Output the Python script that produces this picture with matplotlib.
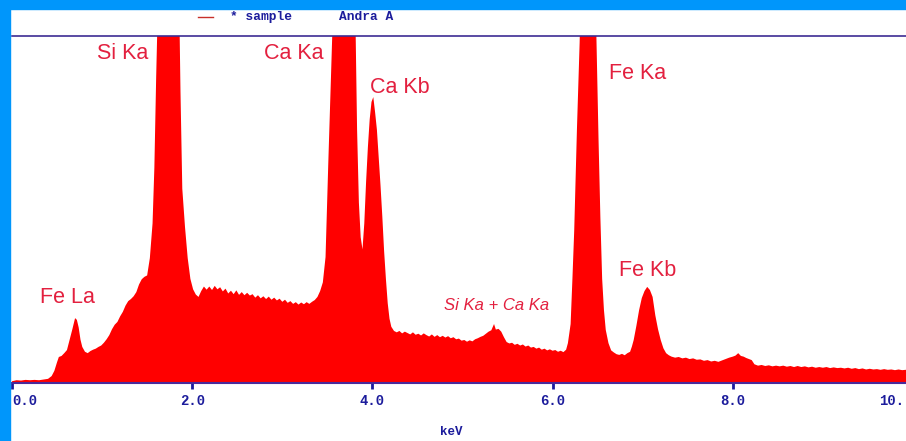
import matplotlib
matplotlib.use('Agg')
import matplotlib.pyplot as plt
from matplotlib.patches import Rectangle
from matplotlib.lines import Line2D

# EDS spectrum: (keV, counts in % of the visible full scale)
spectrum = [
    (0.00, 0.5), (0.05, 0.8), (0.10, 0.7), (0.15, 0.9), (0.20, 0.8), (0.25, 0.9), (0.30, 0.8),
    (0.35, 1.0), (0.40, 1.2), (0.44, 2.0), (0.47, 3.5), (0.50, 6.0), (0.52, 7.5), (0.55, 7.8),
    (0.58, 8.6), (0.61, 9.5), (0.64, 12.5), (0.67, 15.5), (0.70, 18.7), (0.72, 18.2), (0.74, 16.0),
    (0.76, 12.5), (0.78, 10.4), (0.81, 9.0), (0.84, 8.6), (0.87, 9.2), (0.90, 9.6), (0.93, 9.9),
    (0.96, 10.4), (0.99, 10.8), (1.02, 11.6), (1.05, 12.6), (1.08, 13.8), (1.11, 15.5), (1.14, 16.8),
    (1.17, 17.6), (1.20, 19.2), (1.23, 20.5), (1.26, 22.3), (1.29, 23.6), (1.32, 24.2), (1.35, 25.0),
    (1.38, 26.2), (1.41, 28.4), (1.44, 29.9), (1.47, 30.6), (1.50, 31.0), (1.53, 36.0), (1.56, 46.0),
    (1.58, 62.0), (1.60, 88.0), (1.62, 110), (1.66, 170), (1.70, 215), (1.74, 230), (1.78, 215),
    (1.82, 170), (1.85, 120), (1.87, 84), (1.89, 56), (1.92, 45), (1.95, 36), (1.98, 30),
    (2.01, 27.0), (2.04, 25.5), (2.07, 24.8), (2.10, 26.5), (2.13, 27.8), (2.16, 26.9), (2.19, 27.8),
    (2.22, 26.8), (2.25, 28.0), (2.28, 27.0), (2.31, 27.6), (2.34, 26.4), (2.37, 27.2), (2.40, 25.8),
    (2.43, 26.6), (2.46, 25.6), (2.49, 26.7), (2.52, 25.4), (2.55, 26.2), (2.58, 25.3), (2.61, 26.0),
    (2.64, 25.2), (2.67, 25.6), (2.70, 24.6), (2.73, 25.3), (2.76, 24.4), (2.79, 25.0), (2.82, 24.2),
    (2.85, 24.9), (2.88, 24.0), (2.91, 24.6), (2.94, 23.8), (2.97, 24.3), (3.00, 23.4), (3.03, 24.0),
    (3.06, 23.1), (3.09, 23.6), (3.12, 22.8), (3.15, 23.3), (3.18, 22.6), (3.21, 23.2), (3.24, 22.7),
    (3.27, 23.3), (3.30, 22.8), (3.33, 23.4), (3.36, 23.9), (3.39, 24.8), (3.42, 26.5), (3.45, 29.0),
    (3.48, 36.3), (3.51, 63.0), (3.54, 88), (3.56, 105), (3.60, 160), (3.64, 200), (3.69, 215),
    (3.74, 200), (3.78, 150), (3.81, 108), (3.83, 73), (3.85, 52), (3.87, 42), (3.89, 38.5),
    (3.91, 46), (3.93, 58), (3.95, 68), (3.97, 76), (3.99, 81), (4.01, 82.4), (4.03, 78),
    (4.05, 73), (4.07, 65), (4.09, 57), (4.11, 48), (4.13, 38), (4.15, 30), (4.17, 23),
    (4.19, 18.5), (4.21, 16.2), (4.24, 15.0), (4.27, 14.6), (4.30, 15.0), (4.33, 14.3), (4.36, 14.8),
    (4.39, 14.4), (4.42, 14.0), (4.45, 14.6), (4.48, 13.9), (4.51, 14.2), (4.54, 13.7), (4.57, 14.3),
    (4.60, 13.8), (4.63, 13.4), (4.66, 14.0), (4.69, 13.3), (4.72, 13.8), (4.75, 13.2), (4.78, 13.6),
    (4.81, 13.1), (4.84, 13.5), (4.87, 12.9), (4.90, 13.2), (4.93, 12.6), (4.96, 12.8), (4.99, 12.2),
    (5.02, 12.4), (5.05, 11.9), (5.08, 12.3), (5.11, 12.0), (5.14, 12.6), (5.17, 12.9), (5.20, 13.3),
    (5.23, 13.6), (5.26, 14.2), (5.29, 14.8), (5.32, 15.2), (5.35, 17.0), (5.37, 15.4), (5.40, 15.6),
    (5.43, 14.8), (5.46, 13.2), (5.49, 11.8), (5.52, 11.4), (5.55, 11.6), (5.58, 11.0), (5.61, 11.3),
    (5.64, 10.8), (5.67, 11.1), (5.70, 10.5), (5.73, 10.8), (5.76, 10.2), (5.79, 10.4), (5.82, 9.9),
    (5.85, 10.2), (5.88, 9.6), (5.91, 9.9), (5.94, 9.4), (5.97, 9.7), (6.00, 9.3), (6.03, 9.5),
    (6.06, 9.0), (6.09, 9.3), (6.12, 8.9), (6.15, 9.6), (6.17, 11.5), (6.20, 17), (6.22, 30),
    (6.24, 44), (6.27, 73), (6.30, 98), (6.32, 120), (6.36, 190), (6.40, 210), (6.44, 190),
    (6.47, 120), (6.49, 95), (6.51, 70), (6.53, 48), (6.55, 30), (6.57, 21), (6.59, 15.3),
    (6.62, 11.5), (6.65, 9.4), (6.68, 8.8), (6.71, 8.3), (6.74, 8.1), (6.77, 8.4), (6.80, 8.0),
    (6.83, 8.6), (6.86, 9.0), (6.88, 10.5), (6.90, 12.4), (6.93, 16.5), (6.96, 21.0), (6.99, 24.5),
    (7.02, 26.5), (7.05, 27.7), (7.08, 26.8), (7.11, 24.8), (7.14, 19.5), (7.17, 15.5), (7.20, 12.4),
    (7.23, 10.0), (7.26, 8.6), (7.29, 8.0), (7.32, 7.6), (7.36, 7.3), (7.40, 7.5), (7.44, 7.1),
    (7.48, 7.3), (7.52, 6.9), (7.56, 7.1), (7.60, 6.7), (7.64, 6.8), (7.68, 6.4), (7.72, 6.6),
    (7.76, 6.2), (7.80, 6.4), (7.84, 6.1), (7.88, 6.5), (7.92, 6.9), (7.96, 7.3), (8.00, 7.6),
    (8.03, 7.9), (8.06, 8.6), (8.09, 7.8), (8.12, 7.6), (8.15, 7.2), (8.18, 6.9), (8.21, 6.6),
    (8.24, 5.4), (8.28, 5.0), (8.32, 5.2), (8.36, 4.9), (8.40, 5.1), (8.44, 4.8), (8.48, 5.0),
    (8.52, 4.8), (8.56, 5.0), (8.60, 4.7), (8.64, 4.9), (8.68, 4.6), (8.72, 4.9), (8.76, 4.6),
    (8.80, 4.8), (8.84, 4.5), (8.88, 4.7), (8.92, 4.4), (8.96, 4.6), (9.00, 4.4), (9.04, 4.6),
    (9.08, 4.3), (9.12, 4.5), (9.16, 4.3), (9.20, 4.4), (9.24, 4.2), (9.28, 4.4), (9.32, 4.1),
    (9.36, 4.3), (9.40, 4.0), (9.44, 4.2), (9.48, 3.9), (9.52, 4.1), (9.56, 3.9), (9.60, 4.0),
    (9.64, 3.8), (9.68, 4.0), (9.72, 3.8), (9.76, 3.9), (9.80, 3.7), (9.84, 3.9), (9.88, 3.7),
    (9.92, 3.8), (9.96, 3.7), (10.00, 3.7),
]

# peak labels (keV, height)
peak_names = ['Si Ka', 'Ca Ka', 'Ca Kb', 'Fe Ka', 'Fe Kb', 'Fe La']
peak_x = [1.23, 3.13, 4.30, 6.94, 7.06, 0.61]
peak_y = [95.1, 95.1, 85.3, 89.3, 32.3, 24.5]
sum_name = 'Si Ka + Ca Ka'
sum_x, sum_y = 5.38, 22.2

tick_vals = [0, 2, 4, 6, 8]
tick_text = ['0.0', '2.0', '4.0', '6.0', '8.0']

W, H = 906, 441
navy = '#1c1c9c'
label_red = '#e3203f'
mono = 'Liberation Mono'

kev = [p[0] for p in spectrum]
counts = [p[1] for p in spectrum]

fig = plt.figure(figsize=(W / 100, H / 100), dpi=100)
fig.patch.set_facecolor('white')

# blue frame on the left and top
fig.patches.append(Rectangle((0, 0), 10 / W, 1, transform=fig.transFigure, color='#0096fb', zorder=0))
fig.patches.append(Rectangle((0, 1 - 9 / H), 1, 9 / H, transform=fig.transFigure, color='#0096fb', zorder=0))

ax = fig.add_axes([12 / W, (H - 383) / H, (W - 12) / W, 347 / H])
ax.fill_between(kev, 0, counts, color='#ff0000', linewidth=0)
ax.set_xlim(0, (W - 12) / 90.1)
ax.set_ylim(0, 100)

for s in ['left', 'right']:
    ax.spines[s].set_visible(False)
ax.spines['top'].set_color('#3d2c94')
ax.spines['bottom'].set_color('#4b2a9a')
ax.spines['top'].set_linewidth(1.2)
ax.spines['bottom'].set_linewidth(1.5)

ax.set_yticks([])
ax.set_xticks(tick_vals)
ax.set_xticklabels(tick_text, fontfamily=mono, fontweight='bold', fontsize=10, color=navy)
ax.tick_params(axis='x', direction='out', length=4, width=2, color=navy, pad=4)
ax.get_xticklabels()[0].set_horizontalalignment('left')
ax.get_xticklabels()[0].set_x(0)

# the 10.0 label sits at the clipped right edge, only "10." shows
fig.text(904 / W, (H - 401) / H, '10.', fontfamily=mono, fontweight='bold', fontsize=10,
         color=navy, ha='right', va='center')
fig.text(451 / W, (H - 432) / H, 'keV', fontfamily=mono, fontweight='bold', fontsize=9,
         color=navy, ha='center', va='center')

# header legend
fig.lines.append(Line2D([198 / W, 213 / W], [(H - 17) / H] * 2, transform=fig.transFigure,
                        color='#c8302a', linewidth=1))
fig.text(230 / W, (H - 17) / H, '* sample', fontfamily=mono, fontweight='bold', fontsize=9.3,
         color=navy, ha='left', va='center')
fig.text(339 / W, (H - 17) / H, 'Andra A', fontfamily=mono, fontweight='bold', fontsize=9.3,
         color=navy, ha='left', va='center')

for name, x, y in zip(peak_names, peak_x, peak_y):
    ax.text(x, y, name, fontfamily='Liberation Sans', fontsize=15.5, color=label_red,
            ha='center', va='center')
ax.text(sum_x, sum_y, sum_name, fontfamily='Liberation Sans', fontstyle='italic', fontsize=12,
        color=label_red, ha='center', va='center')

fig.savefig('out.png', dpi=100)
